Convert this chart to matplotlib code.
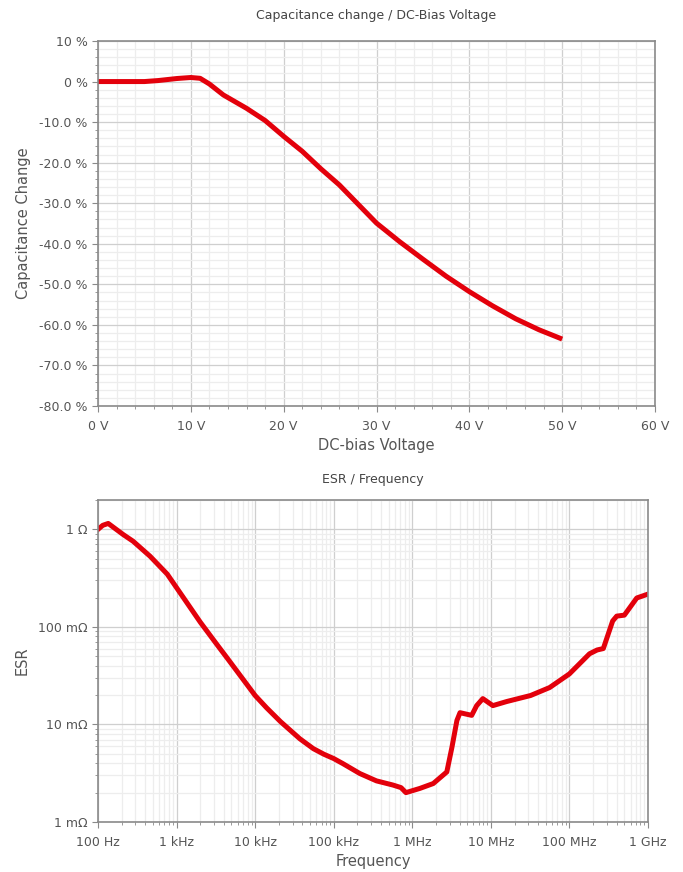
import matplotlib.pyplot as plt
from matplotlib.ticker import MultipleLocator, FixedLocator, LogLocator, NullFormatter

# DC-bias data (V, % change)
bias_v = [0, 5, 6.5, 8.5, 10, 11, 12, 13.5, 16, 18, 20, 22, 24, 26, 28, 30,
          32.5, 35, 37.5, 40, 42.5, 45, 47.5, 50]
cap_change = [0, 0, 0.25, 0.75, 1.0, 0.8, -0.6, -3.3, -6.6, -9.6, -13.5, -17.2,
              -21.5, -25.5, -30.2, -34.9, -39.5, -43.8, -48.0, -51.8, -55.3,
              -58.5, -61.2, -63.5]
bias_ticks = [0, 10, 20, 30, 40, 50, 60]
bias_labels = ["0 V", "10 V", "20 V", "30 V", "40 V", "50 V", "60 V"]
cap_ticks = [10, 0, -10, -20, -30, -40, -50, -60, -70, -80]
cap_labels = ["10 %", "0 %", "-10.0 %", "-20.0 %", "-30.0 %", "-40.0 %",
              "-50.0 %", "-60.0 %", "-70.0 %", "-80.0 %"]

# ESR data (Hz, Ohm)
freq = [100, 115, 135, 210, 280, 460, 760, 1220, 2000, 3240, 4400, 1.0e4, 1.4e4,
        2.1e4, 3.7e4, 5.5e4, 7.5e4, 1.0e5, 1.3e5, 2.15e5, 3.5e5, 5.7e5, 7.2e5,
        8.3e5, 1.25e6, 1.85e6, 2.75e6, 3.2e6, 3.7e6, 4.05e6, 5.7e6, 6.6e6, 7.9e6,
        1.06e7, 1.6e7, 3.2e7, 5.6e7, 1.0e8, 1.8e8, 2.25e8, 2.7e8, 3.55e8, 4.0e8,
        5.0e8, 7.2e8, 1.0e9]
esr = [1.0, 1.1, 1.15, 0.883, 0.755, 0.53, 0.348, 0.2, 0.112, 0.0665, 0.048,
       0.0198, 0.0148, 0.0107, 0.00714, 0.00565, 0.00495, 0.00447, 0.00398,
       0.00314, 0.00264, 0.00239, 0.00225, 0.0020, 0.00221, 0.00248, 0.00326,
       0.00586, 0.0110, 0.0132, 0.0124, 0.0156, 0.0184, 0.0156, 0.0172, 0.0198,
       0.0239, 0.033, 0.053, 0.058, 0.060, 0.115, 0.129, 0.132, 0.198, 0.217]
freq_ticks = [1e2, 1e3, 1e4, 1e5, 1e6, 1e7, 1e8, 1e9]
freq_labels = ["100 Hz", "1 kHz", "10 kHz", "100 kHz", "1 MHz", "10 MHz", "100 MHz", "1 GHz"]
esr_ticks = [1e-3, 1e-2, 1e-1, 1]
esr_labels = ["1 mΩ", "10 mΩ", "100 mΩ", "1 Ω"]

red = "#e3000b"
txt = "#555555"
spine_c = "#8a8a8a"

plt.rcParams["font.family"] = ["DejaVu Sans"]


def style(ax):
    for s in ax.spines.values():
        s.set_color(spine_c)
        s.set_linewidth(1.2)
    ax.grid(which="major", color="#cfcfcf", linewidth=0.9)
    ax.grid(which="minor", color="#ededed", linewidth=0.9)
    ax.set_axisbelow(True)
    ax.tick_params(which="major", length=4, color=spine_c, labelcolor=txt, labelsize=9)
    ax.tick_params(which="minor", length=2.5, color=spine_c)
    ax.tick_params(axis="x", pad=6)


fig = plt.figure(figsize=(6.83, 8.72), dpi=100)

ax1 = fig.add_axes([98 / 683, 1 - 406 / 872, 557 / 683, 365 / 872])
ax1.plot(bias_v, cap_change, color=red, linewidth=3.6, solid_capstyle="butt",
         solid_joinstyle="round")
ax1.set_xlim(0, 60)
ax1.set_ylim(-80, 10)
ax1.set_xticks(bias_ticks)
ax1.set_xticklabels(bias_labels)
ax1.set_yticks(cap_ticks)
ax1.set_yticklabels(cap_labels)
ax1.xaxis.set_minor_locator(MultipleLocator(2))
ax1.yaxis.set_minor_locator(MultipleLocator(2))
style(ax1)
ax1.set_title("Capacitance change / DC-Bias Voltage", fontsize=9, color="#444444", pad=16)
ax1.set_xlabel("DC-bias Voltage", fontsize=10.5, color=txt, labelpad=4)
ax1.set_ylabel("Capacitance Change", fontsize=10.5, color=txt, labelpad=6)

ax2 = fig.add_axes([98 / 683, 1 - 822 / 872, 550 / 683, 322 / 872])
ax2.plot(freq, esr, color=red, linewidth=3.6, solid_joinstyle="round")
ax2.set_xscale("log")
ax2.set_yscale("log")
ax2.set_xlim(1e2, 1e9)
ax2.set_ylim(1e-3, 2.0)
ax2.xaxis.set_major_locator(FixedLocator(freq_ticks))
ax2.set_xticklabels(freq_labels)
ax2.yaxis.set_major_locator(FixedLocator(esr_ticks))
ax2.set_yticklabels(esr_labels)
ax2.xaxis.set_minor_locator(LogLocator(base=10, subs=range(2, 10), numticks=20))
ax2.yaxis.set_minor_locator(LogLocator(base=10, subs=range(2, 10), numticks=20))
ax2.xaxis.set_minor_formatter(NullFormatter())
ax2.yaxis.set_minor_formatter(NullFormatter())
style(ax2)
ax2.set_title("ESR / Frequency", fontsize=9, color="#444444", pad=12)
ax2.set_xlabel("Frequency", fontsize=10.5, color=txt, labelpad=4)
ax2.set_ylabel("ESR", fontsize=10.5, color=txt, labelpad=6)

fig.savefig("out.png", dpi=100)
